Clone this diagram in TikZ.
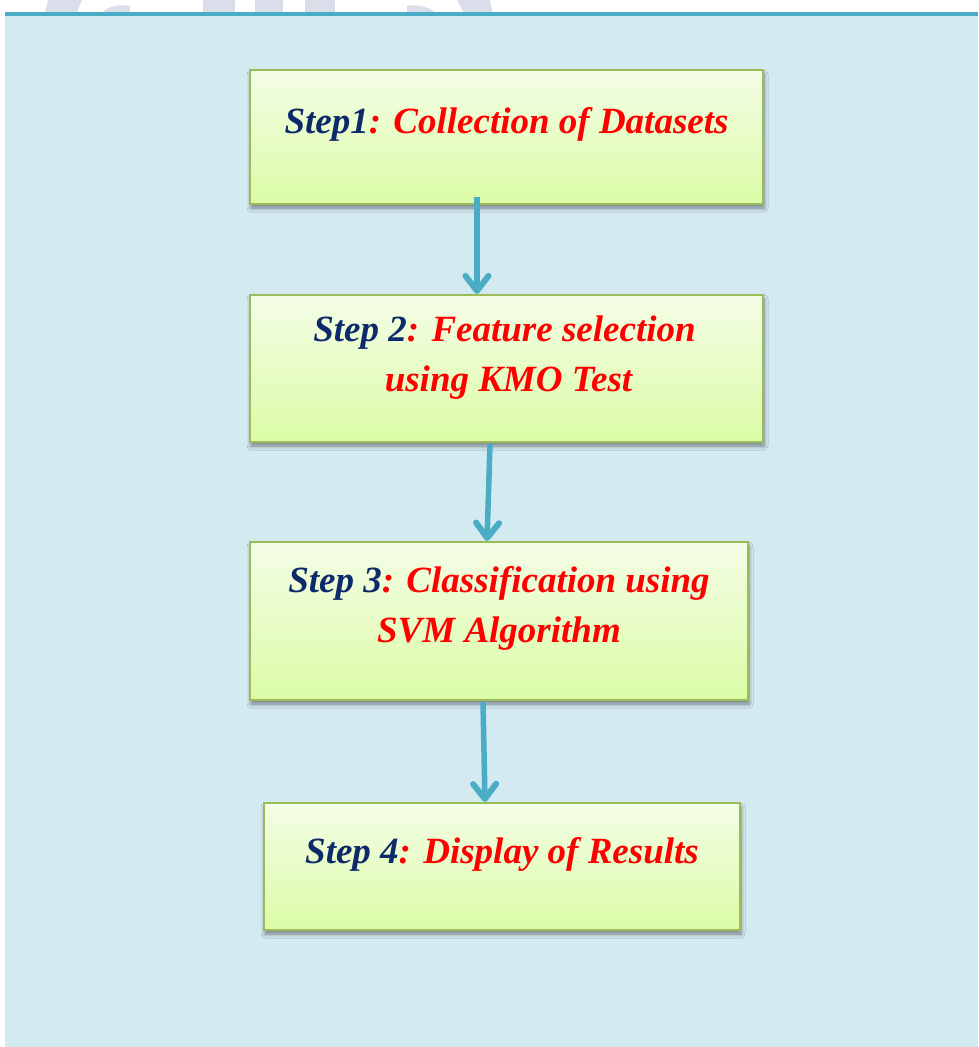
\documentclass[tikz,border=0pt]{standalone}
\usepackage{fontspec}
\setmainfont{Liberation Serif}
\usetikzlibrary{arrows.meta,shadows,shadows.blur}
\definecolor{bgblue}{HTML}{D3EAF0}
\definecolor{topline}{HTML}{4BACC6}
\definecolor{boxedge}{HTML}{9BBB59}
\definecolor{boxtop}{HTML}{F4FDE6}
\definecolor{boxbot}{HTML}{DBFCA6}
\definecolor{arrowc}{HTML}{4BACC6}
\definecolor{navy}{HTML}{0D2A6A}
\definecolor{wm}{HTML}{DCDDEA}
\begin{document}
\begin{tikzpicture}[x=1pt,y=-1pt,
  stepbox/.style={draw=boxedge, line width=2.2pt, top color=boxtop, bottom color=boxbot,
    blur shadow={shadow xshift=1pt, shadow yshift=-4pt, shadow blur radius=4pt, shadow blur steps=6, shadow opacity=45},
    inner sep=0pt},
  steplabel/.style={font=\fontsize{37}{50}\selectfont\bfseries\itshape, align=center, text=red, inner sep=0pt},
  flow/.style={draw=arrowc, line width=5.5pt, -{Straight Barb[length=15pt,width=23pt,line width=6pt,round]}},
  wmark/.style={fill=wm}]
\useasboundingbox (0,0) rectangle (978,1047);
% watermark fragments
\fill[wmark] (48,0) -- (82,0) -- (77,12) -- (45,12) -- cycle;
\fill[wmark] (103,12) .. controls (108,6) and (120,4) .. (130,6) -- (130,12) -- cycle;
\fill[wmark] (203,0) rectangle (235,12);
\fill[wmark] (255,0) rectangle (283,12);
\fill[wmark] (305,0) rectangle (335,12);
\fill[wmark] (407,6) .. controls (418,4) and (428,7) .. (435,12) -- (407,12) -- cycle;
\fill[wmark] (457,0) -- (490,0) -- (492,12) -- (463,12) -- cycle;
% background
\fill[bgblue] (5,15) rectangle (978,1047);
\fill[topline] (5,12) rectangle (978,15.5);
% boxes
\node[stepbox, minimum width=513pt, minimum height=134pt] (b1) at (506.5,137) {};
\node[stepbox, minimum width=513pt, minimum height=147pt] (b2) at (506.5,368.5) {};
\node[stepbox, minimum width=498pt, minimum height=158pt] (b3) at (499,621) {};
\node[stepbox, minimum width=476pt, minimum height=127pt] (b4) at (502,866.5) {};
% labels
\node[steplabel] (t1) at ([yshift=13pt]b1.center) {{\color{navy}Step1}: Collection of Datasets};
\node[steplabel] (t2) at ([yshift=11pt,xshift=-2pt]b2.center) {{\color{navy}Step 2}: Feature selection\\ \hspace*{8pt}using KMO Test};
\node[steplabel] (t3) at ([yshift=13pt]b3.center) {{\color{navy}Step 3}: Classification using\\SVM Algorithm};
\node[steplabel] (t4) at ([yshift=12pt]b4.center) {{\color{navy}Step 4}: Display of Results};
% arrows
\draw[flow] ([xshift=-29.5pt,yshift=8pt]b1.south) -- ([xshift=-29.5pt]b2.north);
\draw[flow] ([xshift=-16.5pt,yshift=-1pt]b2.south) -- ([xshift=-12pt]b3.north);
\draw[flow] ([xshift=-16pt,yshift=-1pt]b3.south) -- ([xshift=-17pt]b4.north);
\end{tikzpicture}
\end{document}
